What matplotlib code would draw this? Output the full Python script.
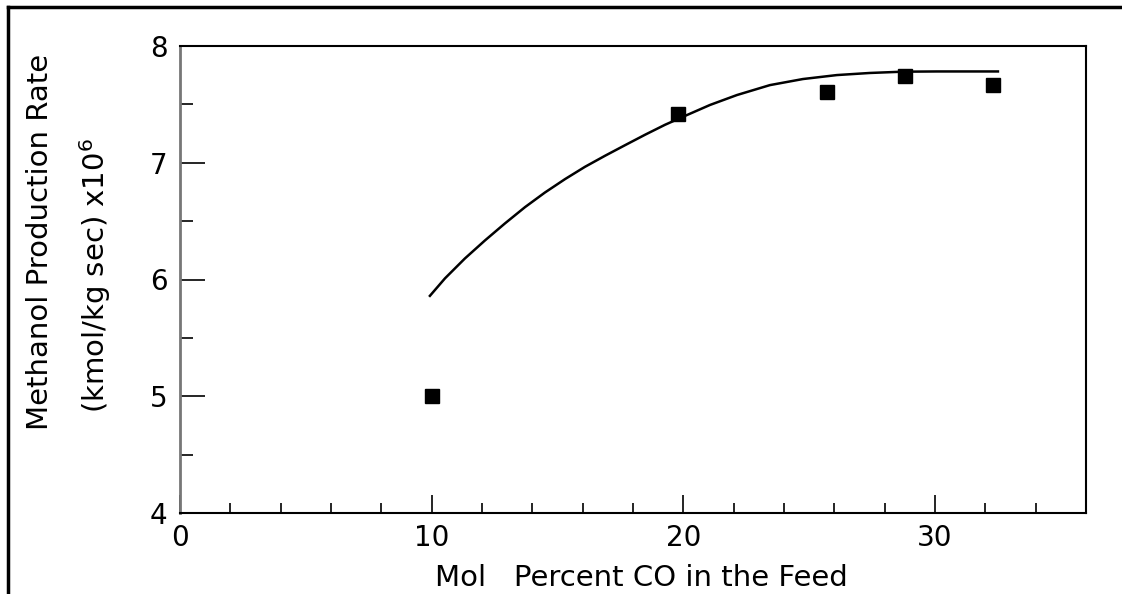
import matplotlib.pyplot as plt
from matplotlib.lines import Line2D
from matplotlib.ticker import MultipleLocator

# measured points
co_pct = [10.0, 19.8, 25.7, 28.8, 32.3]
rate = [5.0, 7.42, 7.61, 7.74, 7.67]

# fitted curve
curve_x = [9.93, 10.53, 11.32, 12.12, 12.91, 13.71, 14.50, 15.30, 16.09, 16.89,
           17.68, 18.48, 19.27, 20.0, 21.06, 22.13, 23.44, 24.75, 26.10, 27.41,
           28.72, 30.08, 32.50]
curve_y = [5.86, 6.01, 6.18, 6.335, 6.48, 6.62, 6.745, 6.86, 6.965, 7.06,
           7.15, 7.24, 7.325, 7.395, 7.495, 7.58, 7.665, 7.717, 7.751, 7.769,
           7.78, 7.782, 7.782]

x_ticks = [0, 10, 20, 30]
y_ticks = [4, 5, 6, 7, 8]

plt.rcParams['font.family'] = ['DejaVu Sans']

fig = plt.figure(figsize=(11.22, 5.94), dpi=100)
ax = fig.add_axes([180 / 1122, 1 - 513 / 594, 906 / 1122, 467 / 594])

ax.plot(curve_x, curve_y, color='black', lw=1.8)
ax.plot(co_pct, rate, 's', color='black', markersize=10)

ax.set_xlim(0, 36)
ax.set_ylim(4, 8)
ax.set_xticks(x_ticks)
ax.set_yticks(y_ticks)
ax.xaxis.set_minor_locator(MultipleLocator(2))
ax.yaxis.set_minor_locator(MultipleLocator(0.5))
ax.tick_params(axis='x', which='major', direction='in', length=13, width=1.2, labelsize=20, pad=8)
ax.tick_params(axis='x', which='minor', direction='in', length=7, width=1.2)
ax.tick_params(axis='y', which='major', direction='in', length=18, width=1.2, labelsize=20, pad=9)
ax.tick_params(axis='y', which='minor', direction='in', length=9, width=1.2)

for side in ['top', 'right', 'bottom']:
    ax.spines[side].set_linewidth(1.5)
ax.spines['left'].set_linewidth(2)
ax.spines['left'].set_color('#777777')

fig.text(641 / 1122, 1 - 578 / 594, 'Mol   Percent CO in the Feed',
         ha='center', va='center', fontsize=21)
fig.text(40 / 1122, 1 - 242 / 594, 'Methanol Production Rate', rotation=90,
         ha='center', va='center', fontsize=21)
fig.text(95 / 1122, 1 - 276 / 594, r'(kmol/kg sec) x10$^{6}$', rotation=90,
         ha='center', va='center', fontsize=21)

# scanned page border
fig.add_artist(Line2D([8 / 1122, 1], [1 - 7 / 594, 1 - 7 / 594], color='black', lw=2.5))
fig.add_artist(Line2D([8 / 1122, 8 / 1122], [0, 1 - 7 / 594], color='black', lw=2.5))

fig.savefig('out.png', dpi=100)
